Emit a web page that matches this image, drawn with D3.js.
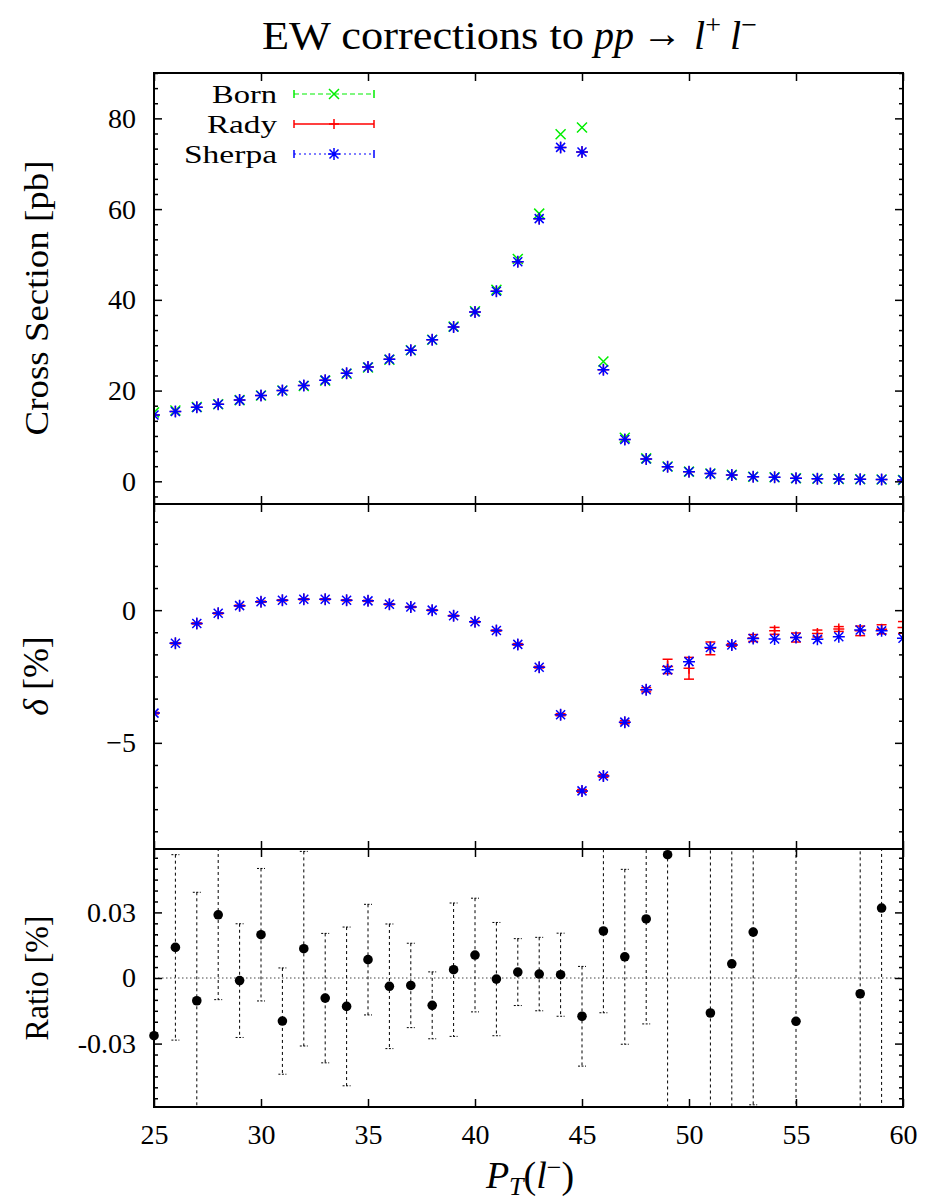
<!DOCTYPE html>
<html><head><meta charset="utf-8">
<script src="https://cdn.jsdelivr.net/npm/d3@7"></script>
<style>
body{margin:0;background:#fff;}
svg text{font-family:"Liberation Serif","Times New Roman",serif;}
</style></head>
<body>
<svg id="chart" width="926" height="1202"></svg>
<script>
// ---------- data ----------
const ptBins = [25,26,27,28,29,30,31,32,33,34,35,36,37,38,39,40,41,42,43,44,45,46,47,48,49,50,51,52,53,54,55,56,57,58,59,60];

const bornXS   = [15.2,15.6,16.4,17.0,17.9,18.9,20.0,21.0,22.2,23.7,25.1,26.8,28.9,31.2,34.1,37.5,42.2,49.0,59.0,76.5,78.0,26.4,9.6,5.05,3.27,2.14,1.73,1.42,1.02,0.88,0.66,0.58,0.51,0.45,0.42,0.31];
const radyXS   = [14.6,15.4,16.3,17.0,17.9,18.9,20.0,21.1,22.3,23.8,25.2,26.9,28.9,31.2,34.0,37.3,41.9,48.4,57.9,73.6,72.6,24.6,9.2,4.9,3.2,2.1,1.7,1.4,1.0,0.87,0.65,0.57,0.5,0.44,0.42,0.3];
const sherpaXS = [14.6,15.4,16.3,17.0,17.9,18.9,20.0,21.1,22.3,23.8,25.2,26.9,28.9,31.2,34.0,37.3,41.9,48.4,57.9,73.6,72.6,24.6,9.2,4.9,3.2,2.1,1.7,1.4,1.0,0.87,0.65,0.57,0.5,0.44,0.42,0.3];

const radyDelta    = [-3.88,-1.25,-0.50,-0.12,0.17,0.32,0.37,0.41,0.41,0.37,0.35,0.22,0.12,0.0,-0.21,-0.44,-0.77,-1.29,-2.15,-3.94,-6.81,-6.25,-4.22,-3.0,-2.12,-2.19,-1.44,-1.31,-1.05,-0.78,-1.03,-0.88,-0.71,-0.78,-0.72,-0.65];
const radyDeltaErr = [0.03,0.02,0.02,0.02,0.02,0.02,0.02,0.02,0.02,0.02,0.02,0.02,0.02,0.02,0.02,0.02,0.02,0.03,0.03,0.04,0.05,0.05,0.06,0.08,0.27,0.41,0.24,0.05,0.13,0.13,0.17,0.13,0.09,0.18,0.17,0.22];
const sherpaDelta  = [-3.88,-1.25,-0.50,-0.12,0.17,0.32,0.37,0.41,0.41,0.37,0.35,0.22,0.12,0.0,-0.21,-0.44,-0.77,-1.29,-2.15,-3.94,-6.81,-6.25,-4.22,-3.0,-2.25,-1.94,-1.41,-1.31,-1.07,-1.09,-1.03,-1.10,-1.0,-0.75,-0.78,-1.06];

const ratioVal = [-0.0264,0.0140,-0.0104,0.0289,-0.0012,0.0198,-0.0197,0.0134,-0.0092,-0.0130,0.0084,-0.0038,-0.0034,-0.0125,0.0038,0.0105,-0.0005,0.0027,0.0018,0.0015,-0.0175,0.0215,0.0097,0.0270,0.0564,null,-0.0160,0.0065,0.0210,null,-0.0198,null,null,-0.0072,0.0320,null];
const ratioErr = [0.046,0.0424,0.0496,0.0388,0.026,0.0303,0.0243,0.0445,0.0296,0.0363,0.0253,0.0285,0.0193,0.0153,0.0305,0.026,0.0259,0.0153,0.0168,0.019,0.0228,0.0374,0.040,0.048,0.13,null,0.11,0.12,0.079,null,0.12,null,null,0.12,0.14,null];

const xTicks = [25,30,35,40,45,50,55,60];
const xsTicks = [0,20,40,60,80];
const deltaTicks = [-5,0];
const ratioTicks = [-0.03,0,0.03];
const ratioTickLabels = ["-0.03","0","0.03"];
const legendLabels = ["Born","Rady","Sherpa"];

// ---------- layout ----------
const L = 154, R = 903;
const P1 = {top:73, bottom:504}, P2 = {top:504, bottom:849}, P3 = {top:849, bottom:1107};
const GREEN = "#00ee00", RED = "#ff0000", BLUE = "#0000ff";
const FONT = "Liberation Serif";

const svg = d3.select("#chart");
const x = d3.scaleLinear([25,60],[L,R]);
const yTop = d3.scaleLinear([-5,90],[P1.bottom,P1.top]);
const yMid = d3.scaleLinear([-9,4],[P2.bottom,P2.top]);
const yBot = d3.scaleLinear([-0.059,0.059],[P3.bottom,P3.top]);

const FS = 28;

function frame(P, y, majors, minorStep, fmt, showX){
  const g = svg.append("g");
  const d = y.domain();
  const minors = d3.range(Math.ceil(d[0]/minorStep-1e-9)*minorStep, d[1]+1e-9, minorStep)
     .filter(v => !majors.some(m => Math.abs(m-v) < minorStep*0.1));
  g.append("g").attr("transform",`translate(${L},0)`)
    .call(d3.axisLeft(y).tickValues(minors).tickSize(-4).tickFormat(""))
    .call(s=>s.select(".domain").remove());
  g.append("g").attr("transform",`translate(${R},0)`)
    .call(d3.axisRight(y).tickValues(minors).tickSize(-4).tickFormat(""))
    .call(s=>s.select(".domain").remove());
  g.append("g").attr("transform",`translate(${L},0)`)
    .call(d3.axisLeft(y).tickValues(majors).tickSize(-8).tickPadding(18).tickFormat(fmt))
    .call(s=>s.select(".domain").remove());
  g.append("g").attr("transform",`translate(${R},0)`)
    .call(d3.axisRight(y).tickValues(majors).tickSize(-8).tickFormat(""))
    .call(s=>s.select(".domain").remove());
  g.append("g").attr("transform",`translate(0,${P.top})`)
    .call(d3.axisTop(x).tickValues(xTicks).tickSize(-8).tickFormat(""))
    .call(s=>s.select(".domain").remove());
  g.append("g").attr("transform",`translate(0,${P.bottom})`)
    .call(d3.axisBottom(x).tickValues(xTicks).tickSize(-8).tickPadding(17).tickFormat(showX ? d3.format("d") : ""))
    .call(s=>s.select(".domain").remove());
  g.selectAll(".tick line").attr("stroke","#000").attr("stroke-width",1.5);
  g.selectAll(".tick text").attr("font-size",FS).attr("font-family",FONT).attr("fill","#000");
  g.append("rect").attr("x",L).attr("y",P.top).attr("width",R-L).attr("height",P.bottom-P.top)
    .attr("fill","none").attr("stroke","#000").attr("stroke-width",2);
  return g;
}

function clip(id,P){
  svg.append("clipPath").attr("id",id).append("rect")
    .attr("x",L).attr("y",P.top).attr("width",R-L).attr("height",P.bottom-P.top);
}
clip("c1",P1); clip("c2",P2); clip("c3",P3);

function cross(cx,cy,s){return `M${cx-s},${cy-s}L${cx+s},${cy+s}M${cx-s},${cy+s}L${cx+s},${cy-s}`;}
function plus(cx,cy,s){return `M${cx-s},${cy}L${cx+s},${cy}M${cx},${cy-s}L${cx},${cy+s}`;}
function star(cx,cy,s){return plus(cx,cy,s)+cross(cx,cy,s*0.75);}

// ---------- panel 1 ----------
const g1 = svg.append("g").attr("clip-path","url(#c1)");
g1.selectAll("path.born").data(ptBins).join("path")
  .attr("d",(d,i)=>cross(x(d),yTop(bornXS[i]),5))
  .attr("stroke",GREEN).attr("stroke-width",1.5).attr("fill","none");
g1.selectAll("path.rady").data(ptBins).join("path")
  .attr("d",(d,i)=>plus(x(d),yTop(radyXS[i]),5.5))
  .attr("stroke",RED).attr("stroke-width",1.5).attr("fill","none");
g1.selectAll("path.sherpa").data(ptBins).join("path")
  .attr("d",(d,i)=>star(x(d),yTop(sherpaXS[i]),6))
  .attr("stroke",BLUE).attr("stroke-width",1.5).attr("fill","none");
frame(P1, yTop, xsTicks, 20/6, d3.format("d"), false);

// legend
const legendStyle = [
  {color:GREEN, dash:"5,3", mark:cross, w:1.2, tl:65},
  {color:RED, dash:null, mark:plus, w:1.5, tl:70},
  {color:BLUE, dash:"2,3", mark:star, w:1.2, tl:93}
];
legendLabels.forEach((lab,i)=>{
  const it = legendStyle[i];
  const yy = 94 + i*30;
  svg.append("text").attr("x",277-it.tl).attr("y",yy+9)
    .attr("font-size",26).attr("textLength",it.tl).attr("lengthAdjust","spacingAndGlyphs").text(lab);
  const lg = svg.append("g").attr("stroke",it.color).attr("fill","none");
  lg.append("line").attr("x1",294).attr("x2",374).attr("y1",yy).attr("y2",yy)
    .attr("stroke-width",it.w).attr("stroke-dasharray",it.dash);
  lg.append("line").attr("x1",294).attr("x2",294).attr("y1",yy-4).attr("y2",yy+4).attr("stroke-width",1.5);
  lg.append("line").attr("x1",374).attr("x2",374).attr("y1",yy-4).attr("y2",yy+4).attr("stroke-width",1.5);
  lg.append("path").attr("d",it.mark(334,yy,i===2?6:5)).attr("stroke-width",1.5);
});

// ---------- panel 2 ----------
const g2 = svg.append("g").attr("clip-path","url(#c2)");
g2.selectAll("g.err").data(ptBins).join("g").each(function(d,i){
  const gx = x(d), y1 = yMid(radyDelta[i]+radyDeltaErr[i]), y0 = yMid(radyDelta[i]-radyDeltaErr[i]);
  const s = d3.select(this).attr("stroke",RED).attr("stroke-width",1.5);
  s.append("line").attr("x1",gx).attr("x2",gx).attr("y1",y1).attr("y2",y0);
  s.append("line").attr("x1",gx-5).attr("x2",gx+5).attr("y1",y1).attr("y2",y1);
  s.append("line").attr("x1",gx-5).attr("x2",gx+5).attr("y1",y0).attr("y2",y0);
  s.append("path").attr("d",plus(gx,yMid(radyDelta[i]),5.5)).attr("fill","none");
});
g2.selectAll("path.sherpa").data(ptBins).join("path")
  .attr("d",(d,i)=>star(x(d),yMid(sherpaDelta[i]),6))
  .attr("stroke",BLUE).attr("stroke-width",1.5).attr("fill","none");
frame(P2, yMid, deltaTicks, 5/6, d3.format("d"), false);

// ---------- panel 3 ----------
const g3 = svg.append("g").attr("clip-path","url(#c3)");
g3.append("line").attr("x1",L).attr("x2",R).attr("y1",yBot(0)).attr("y2",yBot(0))
  .attr("stroke","#444").attr("stroke-width",1).attr("stroke-dasharray","1.5,2.5");
ptBins.forEach((d,i)=>{
  if (ratioVal[i]===null) return;
  const gx = x(d), v = ratioVal[i], e = ratioErr[i];
  const y1 = yBot(v+e), y0 = yBot(v-e);
  const s = g3.append("g").attr("stroke","#000").attr("stroke-width",1).attr("stroke-dasharray","3,3");
  s.append("line").attr("x1",gx).attr("x2",gx).attr("y1",y1).attr("y2",y0);
  s.append("line").attr("x1",gx-4).attr("x2",gx+4).attr("y1",y1).attr("y2",y1).attr("stroke-dasharray","2,1.5");
  s.append("line").attr("x1",gx-4).attr("x2",gx+4).attr("y1",y0).attr("y2",y0).attr("stroke-dasharray","2,1.5");
});
svg.append("g").selectAll("circle").data(ptBins.filter((d,i)=>ratioVal[i]!==null)).join("circle")
  .attr("cx",d=>x(d)).attr("cy",d=>yBot(ratioVal[ptBins.indexOf(d)])).attr("r",4.8).attr("fill","#000");
frame(P3, yBot, ratioTicks, 0.005, (d,i)=>ratioTickLabels[i], true);

// ---------- titles ----------
const title = svg.append("text").attr("x",262).attr("y",49).attr("font-size",40);
title.append("tspan").attr("textLength",322).attr("lengthAdjust","spacingAndGlyphs").text("EW corrections to");
title.append("tspan").attr("x",594).attr("font-style","italic").text("pp");
title.append("tspan").attr("x",642).attr("dy",-2).text("\u2192");
title.append("tspan").attr("x",694).attr("dy",2).attr("font-style","italic").text("l");
title.append("tspan").attr("font-size",28).attr("dy",-15).text("+");
title.append("tspan").attr("x",730).attr("font-style","italic").attr("dy",15).text("l");
title.append("tspan").attr("font-size",28).attr("dy",-15).text("\u2212");

function ylab(cy, build){
  const t = svg.append("text").attr("transform",`translate(48,${cy}) rotate(-90)`)
    .attr("text-anchor","middle").attr("font-size",33);
  build(t);
}
ylab(298, t=>t.text("Cross Section [pb]").attr("textLength",275).attr("lengthAdjust","spacingAndGlyphs"));
ylab(676, t=>{t.attr("font-size",36);
  t.append("tspan").attr("font-style","italic").text("\u03b4");
  t.append("tspan").text(" [%]");});
ylab(978, t=>t.text("Ratio [%]").attr("textLength",125).attr("lengthAdjust","spacingAndGlyphs"));

const xl = svg.append("text").attr("x",530).attr("y",1188).attr("text-anchor","middle").attr("font-size",38);
xl.append("tspan").attr("font-style","italic").text("P");
xl.append("tspan").attr("font-style","italic").attr("font-size",26).attr("dy",7).text("T");
xl.append("tspan").attr("dy",-7).text("(");
xl.append("tspan").attr("font-style","italic").text("l");
xl.append("tspan").attr("font-size",26).attr("dy",-12).text("\u2212");
xl.append("tspan").attr("dy",12).text(")");
</script>
</body></html>
